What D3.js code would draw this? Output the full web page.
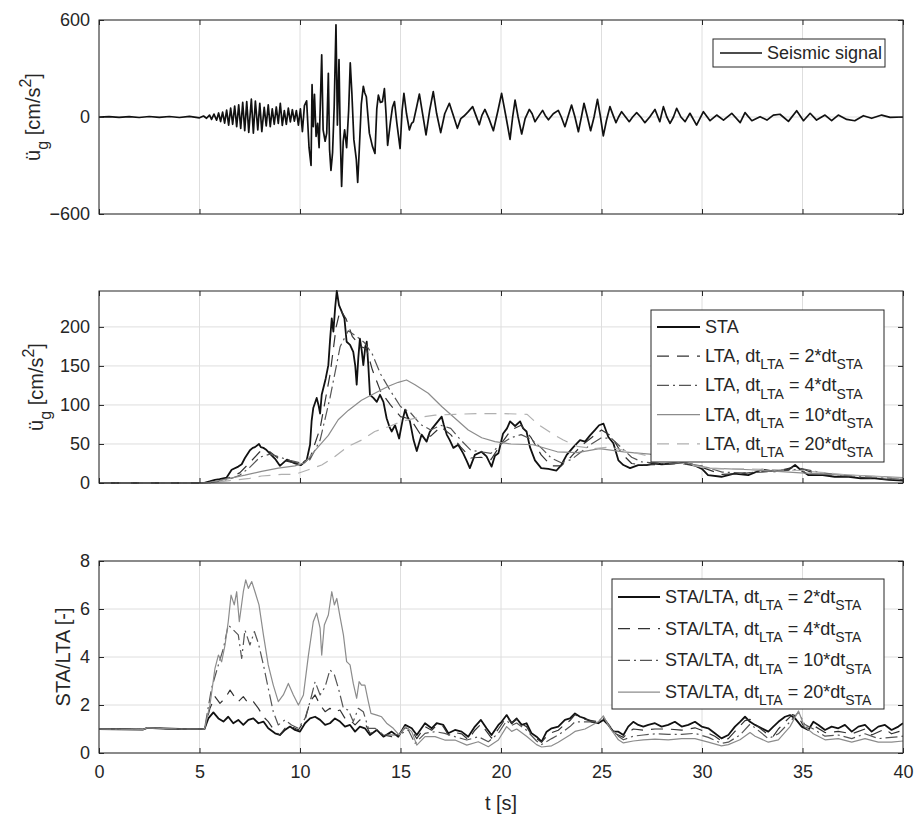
<!DOCTYPE html>
<html>
<head>
<meta charset="utf-8">
<script src="https://d3js.org/d3.v7.min.js"></script>
<style>
  body { margin:0; background:#fff; }
  svg { font-family: 'Liberation Sans', Arial, sans-serif; }
  text { fill:#262626; }
</style>
</head>
<body>
<svg id="chart" width="917" height="816"></svg>
<script>
// ---- data (t [s], value) ----
const tTicks = [0, 5, 10, 15, 20, 25, 30, 35, 40];
const accTicks = [-600, 0, 600];
const staTicks = [0, 50, 100, 150, 200];
const ratioTicks = [0, 2, 4, 6, 8];

const seismic = [[0,0],[0.5,2],[1,-2],[1.5,2],[2,-3],[2.5,3],[3,-2],[3.5,3],[4,-3],[4.5,4],[5,-5],[5.2,6],[5.35,-8],[5.5,12],[5.6,-15],[5.72,18],[5.85,-20],[5.95,25],[6.05,-28],[6.15,30],[6.25,-38],[6.35,42],[6.45,-50],[6.55,55],[6.65,-45],[6.75,68],[6.85,-60],[6.95,75],[7.05,-70],[7.15,90],[7.25,-85],[7.35,95],[7.45,-95],[7.58,110],[7.68,-100],[7.78,98],[7.9,-80],[8.0,85],[8.1,-90],[8.22,60],[8.32,-55],[8.42,75],[8.52,-60],[8.62,50],[8.72,-45],[8.82,62],[8.92,-40],[9.02,85],[9.12,-52],[9.22,40],[9.32,-45],[9.42,55],[9.52,-30],[9.62,45],[9.72,-25],[9.82,40],[9.92,-50],[10.02,50],[10.12,-90],[10.22,70],[10.33,100],[10.45,-190],[10.55,-300],[10.6,200],[10.66,-60],[10.72,140],[10.8,-120],[10.88,-40],[10.95,-190],[11.08,385],[11.15,-80],[11.25,-150],[11.33,-100],[11.41,270],[11.47,-200],[11.54,-330],[11.62,-220],[11.7,60],[11.79,570],[11.86,-50],[11.94,355],[12.0,-100],[12.07,-430],[12.15,-150],[12.22,-80],[12.32,-190],[12.42,40],[12.5,335],[12.58,150],[12.68,-140],[12.8,-260],[12.87,-405],[12.95,-200],[13.05,80],[13.15,190],[13.22,150],[13.3,125],[13.45,-100],[13.6,-180],[13.73,-225],[13.82,50],[13.9,135],[14.0,90],[14.1,95],[14.2,175],[14.28,20],[14.36,-175],[14.5,-30],[14.6,60],[14.7,95],[14.82,-40],[14.98,-195],[15.08,40],[15.17,146],[15.3,20],[15.44,-80],[15.55,-40],[15.64,-30],[15.8,60],[15.94,142],[16.1,20],[16.27,-111],[16.45,40],[16.63,157],[16.8,20],[17.0,-97],[17.2,20],[17.43,85],[17.6,20],[17.83,-70],[18.0,-10],[18.16,6],[18.35,30],[18.59,64],[18.75,10],[18.92,-48],[19.05,10],[19.2,47],[19.4,-10],[19.62,-85],[19.85,40],[20.03,146],[20.25,0],[20.45,-138],[20.58,0],[20.7,105],[20.85,0],[21.03,-105],[21.2,-10],[21.41,47],[21.55,20],[21.69,-29],[21.9,10],[22.07,41],[22.2,10],[22.36,-17],[22.6,20],[22.85,41],[23.0,0],[23.18,-60],[23.35,10],[23.51,74],[23.68,0],[23.85,-91],[24.0,0],[24.13,85],[24.3,0],[24.46,-85],[24.63,0],[24.8,109],[24.95,0],[25.09,-117],[25.25,-20],[25.42,64],[25.58,10],[25.72,-35],[25.85,0],[26.0,33],[26.2,0],[26.38,-29],[26.55,0],[26.75,27],[26.95,0],[27.16,-35],[27.4,0],[27.66,47],[27.9,-29],[28.08,64],[28.25,0],[28.41,-39],[28.58,0],[28.74,54],[28.95,0],[29.16,-29],[29.4,23],[29.73,-50],[30.07,33],[30.4,-23],[30.73,12],[31.07,-19],[31.48,23],[31.9,-35],[32.14,27],[32.48,-23],[32.89,2],[33.23,-19],[33.55,12],[33.88,17],[34.3,-27],[34.71,39],[35.05,-23],[35.38,23],[35.7,-19],[36.12,12],[36.45,-23],[36.78,12],[37.2,-15],[37.6,-23],[38.03,8],[38.44,-8],[38.94,12],[39.36,-2],[40,0]];

const sta = [[0,0],[5.2,0],[5.5,2],[5.77,4],[6.0,5],[6.35,7],[6.6,17],[6.93,21],[7.1,24],[7.26,32],[7.51,42],[7.65,45],[7.76,46],[7.96,50],[8.05,46],[8.18,45],[8.3,43],[8.42,40],[8.6,35],[8.76,31],[9.0,22],[9.22,27],[9.35,30],[9.5,28],[9.75,25],[10.05,23],[10.33,29],[10.5,49],[10.58,80],[10.66,96],[10.83,109],[10.92,100],[11.0,89],[11.08,113],[11.28,134],[11.41,151],[11.5,185],[11.58,211],[11.66,194],[11.75,225],[11.83,246],[11.94,228],[12.07,220],[12.21,211],[12.32,181],[12.49,177],[12.65,168],[12.75,150],[12.82,126],[12.9,160],[12.98,185],[13.07,170],[13.15,151],[13.25,175],[13.32,181],[13.4,150],[13.48,113],[13.65,109],[13.82,104],[13.98,113],[14.15,104],[14.31,83],[14.45,72],[14.56,66],[14.73,74],[14.93,57],[15.1,80],[15.23,94],[15.35,85],[15.47,79],[15.65,55],[15.81,41],[16.05,62],[16.3,53],[16.45,65],[16.58,70],[16.8,77],[17.05,85],[17.15,75],[17.3,62],[17.45,55],[17.63,45],[17.87,49],[18.12,38],[18.3,28],[18.45,19],[18.7,36],[19.03,40],[19.28,34],[19.53,21],[19.7,35],[19.87,38],[20.1,63],[20.3,70],[20.45,79],[20.7,73],[20.95,79],[21.1,70],[21.27,66],[21.44,46],[21.69,29],[22.0,19],[22.35,18],[22.76,16],[23.0,23],[23.27,36],[23.6,46],[23.93,55],[24.18,53],[24.43,61],[24.68,68],[24.88,74],[25.1,76],[25.34,59],[25.59,51],[25.84,29],[26.09,23],[26.42,19],[26.83,23],[27.25,23],[27.6,25],[28,24],[28.5,25],[29,26],[29.5,24],[30.0,18],[30.3,10],[30.97,8],[31.6,12],[32.3,10],[32.97,17],[33.6,15],[34.3,17],[34.63,23],[34.9,17],[35.3,10],[36.0,10],[36.6,8],[37.3,8],[37.9,6],[38.6,6],[39.3,4],[40,3]];

const lta2 = [[0,0],[5.3,0],[5.6,1],[6,3],[6.5,7],[7,13],[7.5,26],[8,40],[8.5,40],[9,30],[9.5,27],[10,25],[10.5,32],[11,70],[11.5,140],[11.8,200],[12.0,222],[12.3,210],[12.6,188],[13,175],[13.3,172],[13.6,145],[14,118],[14.5,100],[15,85],[15.5,82],[16,62],[16.5,60],[17,72],[17.5,62],[18,46],[18.5,32],[19,33],[19.5,30],[20,50],[20.5,68],[21,74],[21.5,58],[22,36],[22.5,22],[23,22],[23.5,34],[24,48],[24.5,58],[25,68],[25.5,60],[26,38],[26.5,25],[27,23],[28,24],[29,25],[30,20],[31,11],[32,12],[33,15],[34,17],[34.7,21],[35.3,15],[36,11],[37,9],[38,7],[39,5],[40,4]];

const lta4 = [[0,0],[5.3,0],[5.7,1],[6,2],[6.5,5],[7,10],[7.5,20],[8,33],[8.5,37],[9,33],[9.5,29],[10,26],[10.5,30],[11,55],[11.5,110],[12,175],[12.4,195],[12.8,188],[13.2,180],[13.6,165],[14,140],[14.5,118],[15,98],[15.5,90],[16,75],[16.5,68],[17,74],[17.5,70],[18,55],[18.5,42],[19,40],[19.5,38],[20,50],[20.5,58],[21,62],[21.5,56],[22,45],[22.5,32],[23,26],[23.5,30],[24,40],[24.5,50],[25,58],[25.5,57],[26,45],[26.5,33],[27,27],[28,25],[29,25],[30,22],[31,14],[32,13],[33,14],[34,16],[35,18],[36,13],[37,10],[38,8],[39,7],[40,5]];

const lta10 = [[0,0],[5.3,0],[6,3],[6.5,6],[7.26,10],[8.09,15],[8.92,19],[9.75,22],[10.25,26],[10.83,44],[11.41,61],[11.9,81],[12.4,93],[13.06,106],[13.72,115],[14.4,124],[14.89,129],[15.3,132],[15.72,126],[16.38,115],[17.05,98],[17.71,83],[18.37,68],[19.04,58],[19.7,53],[20.5,50],[21.6,49],[22.8,40],[23.8,39],[24.9,44],[26.1,40],[27.4,37],[28.5,30],[29.5,24],[30.4,19],[32.4,17],[34.9,13],[37.4,10],[40,7]];

const lta20 = [[0,0],[5.5,0],[6.5,3],[7.5,6],[8.09,9],[9.09,11],[9.75,11],[10.42,17],[11.08,23],[11.74,34],[12.4,47],[13.06,55],[13.72,66],[14.4,72],[15.06,79],[15.89,84],[16.72,87],[17.71,88],[18.87,89],[20,89],[21.3,88],[21.8,76],[22.5,64],[23.1,55],[23.8,47],[24.6,44],[25.4,46],[26.1,42],[27.1,36],[28.5,28],[30.4,18],[32.4,18],[34.9,16],[37.4,10],[40,6]];

const ratio2 = [[0,1],[2.2,0.98],[2.4,1.05],[3.2,1.02],[4,1.0],[5.25,1.0],[5.44,1.44],[5.69,1.69],[5.94,1.44],[6.19,1.31],[6.43,1.51],[6.68,1.24],[6.93,1.38],[7.18,1.17],[7.43,1.38],[7.68,1.44],[7.93,1.24],[8.18,1.31],[8.42,1.03],[8.76,0.82],[9.0,0.75],[9.25,0.96],[9.5,1.1],[9.75,0.96],[10.0,0.89],[10.25,1.24],[10.5,1.44],[10.75,1.51],[11.0,1.38],[11.25,1.17],[11.49,1.24],[11.74,1.44],[11.99,1.31],[12.24,1.1],[12.49,1.17],[12.74,0.89],[12.98,1.1],[13.23,1.03],[13.48,0.75],[13.82,0.96],[14.15,0.68],[14.56,0.89],[14.89,0.68],[15.23,1.17],[15.56,1.03],[15.81,0.75],[16.22,1.24],[16.55,1.03],[16.8,1.24],[17.13,1.17],[17.38,0.82],[17.71,0.96],[18.04,0.89],[18.37,0.68],[18.7,1.1],[19.0,1.38],[19.28,1.03],[19.53,0.75],[19.87,1.17],[20.03,1.3],[20.28,1.58],[20.53,1.24],[20.78,1.44],[21.03,1.17],[21.27,1.24],[21.52,0.82],[21.77,0.68],[22.02,0.47],[22.27,0.89],[22.52,1.03],[22.85,1.1],[23.18,1.38],[23.43,1.44],[23.68,1.65],[23.93,1.51],[24.18,1.44],[24.51,1.3],[24.84,1.24],[25.09,1.38],[25.34,1.17],[25.59,0.89],[25.84,0.89],[26.09,0.75],[26.33,1.1],[26.58,1.3],[26.83,1.17],[27.08,1.1],[27.33,1.17],[27.66,1.24],[27.99,1.1],[28.32,1.17],[28.65,1.3],[28.99,1.1],[29.32,1.17],[29.65,1.3],[29.98,1.1],[30.31,1.03],[30.64,0.82],[30.97,0.61],[31.31,0.75],[31.64,1.1],[31.89,1.3],[32.14,1.51],[32.39,1.3],[32.64,1.17],[32.97,1.03],[33.3,0.89],[33.55,1.1],[33.8,1.3],[34.13,1.51],[34.38,1.58],[34.63,1.44],[34.96,1.1],[35.29,0.96],[35.54,1.3],[35.79,1.17],[36.12,0.96],[36.45,1.1],[36.78,1.03],[37.11,1.17],[37.45,0.89],[37.78,1.1],[38.11,1.17],[38.44,0.89],[38.77,1.1],[39.1,1.17],[39.43,0.96],[39.77,1.1],[40,1.24]];

const ratio4 = [[0,1],[2.2,0.98],[2.4,1.05],[3.2,1.02],[4,1.0],[5.25,1.0],[5.52,1.86],[5.77,2.35],[6.02,2.07],[6.27,2.28],[6.52,2.62],[6.68,2.42],[6.93,2.14],[7.18,2.35],[7.43,2.07],[7.68,2.14],[7.93,1.86],[8.18,1.51],[8.42,1.31],[8.76,0.89],[9.0,0.75],[9.25,1.03],[9.58,1.1],[9.92,0.96],[10.25,1.38],[10.5,2.14],[10.75,2.42],[11.0,2.0],[11.25,1.72],[11.49,1.86],[11.74,1.72],[11.99,1.79],[12.24,1.44],[12.49,1.38],[12.74,1.17],[12.98,1.38],[13.23,1.24],[13.48,0.82],[13.82,0.89],[14.15,0.75],[14.56,0.68],[14.89,0.75],[15.23,1.05],[15.56,0.95],[15.81,0.6],[16.22,1.1],[16.55,0.95],[16.8,1.15],[17.13,1.1],[17.38,0.75],[17.71,0.85],[18.04,0.8],[18.37,0.55],[18.7,0.95],[19.0,1.2],[19.28,0.9],[19.53,0.62],[19.87,1.0],[20.28,1.5],[20.53,1.25],[20.78,1.4],[21.03,1.2],[21.27,1.1],[21.52,0.75],[21.77,0.6],[22.02,0.45],[22.27,0.7],[22.52,0.85],[22.85,0.95],[23.18,1.2],[23.43,1.35],[23.68,1.6],[23.93,1.5],[24.18,1.4],[24.51,1.35],[24.84,1.3],[25.09,1.45],[25.34,1.2],[25.59,0.85],[25.84,0.75],[26.09,0.65],[26.33,0.85],[26.58,1.0],[27.08,0.95],[27.66,1.0],[28.32,1.0],[28.99,0.95],[29.65,1.05],[29.98,0.95],[30.64,0.7],[30.97,0.5],[31.31,0.6],[31.64,0.9],[32.14,1.35],[32.39,1.4],[32.64,1.2],[33.3,0.75],[33.55,0.7],[33.8,1.0],[34.13,1.3],[34.5,1.6],[34.8,1.5],[35.1,1.05],[35.54,1.15],[36.12,0.85],[36.78,0.9],[37.45,0.8],[38.11,1.0],[38.44,0.75],[39.1,1.0],[39.43,0.8],[40,0.95]];

const ratio10 = [[0,1],[2.2,0.98],[2.4,1.05],[3.2,1.02],[4,1.0],[5.25,1.0],[5.6,2.7],[5.94,3.67],[6.19,4.36],[6.43,5.33],[6.68,5.13],[6.93,4.92],[7.1,3.94],[7.26,5.13],[7.51,4.5],[7.73,5.06],[7.93,4.57],[8.18,3.67],[8.42,2.7],[8.67,1.72],[8.92,1.17],[9.25,1.38],[9.58,1.17],[9.92,1.03],[10.25,1.44],[10.5,2.14],[10.75,2.97],[11.0,2.42],[11.25,2.76],[11.49,3.47],[11.71,3.26],[11.91,2.7],[12.16,1.86],[12.4,1.79],[12.65,1.31],[12.9,1.86],[13.15,1.72],[13.4,1.03],[13.73,1.03],[14.06,0.82],[14.4,0.75],[14.73,0.75],[15.06,0.82],[15.39,0.96],[15.72,0.4],[16.22,0.82],[16.72,0.89],[17.2,0.82],[17.71,0.68],[18.3,0.54],[18.87,0.68],[19.37,0.47],[19.87,0.82],[20.28,1.35],[20.53,1.15],[20.78,1.25],[21.27,0.95],[21.77,0.5],[22.02,0.35],[22.52,0.6],[22.85,0.75],[23.43,1.1],[23.68,1.3],[24.18,1.3],[24.84,1.3],[25.09,1.5],[25.34,1.2],[25.84,0.7],[26.09,0.55],[26.58,0.7],[27.08,0.75],[27.66,0.8],[28.32,0.78],[28.99,0.78],[29.65,0.82],[30.31,0.65],[30.97,0.4],[31.31,0.45],[31.89,0.75],[32.39,1.2],[32.64,1.05],[33.3,0.6],[33.8,0.8],[34.38,1.3],[34.8,1.7],[35.1,1.2],[35.54,1.0],[36.12,0.7],[36.78,0.75],[37.45,0.6],[38.11,0.8],[38.77,0.6],[39.43,0.65],[40,0.7]];

const ratio20 = [[0,1],[2.2,0.98],[2.4,1.05],[3.2,1.02],[4,1.0],[5.25,1.0],[5.52,2.0],[5.77,3.53],[5.94,4.08],[6.1,3.8],[6.27,4.5],[6.43,5.47],[6.57,6.58],[6.73,6.17],[6.85,6.72],[6.98,5.47],[7.18,6.72],[7.3,7.21],[7.43,6.86],[7.6,7.14],[7.76,6.72],[7.96,6.17],[8.18,4.92],[8.42,3.67],[8.67,2.83],[8.92,2.14],[9.17,2.42],[9.42,2.9],[9.67,2.42],[9.92,2.0],[10.17,2.42],[10.42,4.08],[10.66,5.47],[10.83,5.83],[11.0,5.2],[11.08,4.08],[11.21,5.33],[11.41,5.75],[11.58,6.72],[11.71,6.17],[11.83,6.44],[11.99,5.68],[12.16,4.92],[12.32,3.81],[12.49,3.67],[12.65,2.9],[12.82,2.28],[12.94,2.97],[13.06,2.83],[13.23,2.83],[13.4,2.14],[13.53,1.65],[13.82,1.58],[14.06,1.51],[14.31,1.24],[14.64,1.03],[14.93,0.75],[15.23,1.1],[15.56,0.89],[15.81,0.33],[16.22,0.68],[16.72,0.68],[17.2,0.54],[17.71,0.54],[18.3,0.33],[18.87,0.47],[19.37,0.26],[19.87,0.54],[20.28,1.1],[20.53,0.9],[20.78,1.0],[21.27,0.7],[21.77,0.35],[22.02,0.25],[22.52,0.3],[22.85,0.45],[23.43,0.75],[23.68,0.9],[24.18,1.0],[24.84,1.3],[25.09,1.55],[25.34,1.15],[25.84,0.55],[26.09,0.42],[26.58,0.5],[27.08,0.55],[27.66,0.58],[28.32,0.55],[28.99,0.6],[29.65,0.6],[30.31,0.45],[30.97,0.3],[31.31,0.35],[31.89,0.55],[32.39,0.85],[32.64,0.7],[33.3,0.45],[33.8,0.55],[34.38,1.1],[34.8,1.75],[35.1,1.1],[35.54,0.8],[36.12,0.55],[36.78,0.6],[37.45,0.45],[38.11,0.6],[38.77,0.45],[39.43,0.45],[40,0.5]];

// ---- layout ----
const svg = d3.select("#chart");
const left = 99, right = 903;
const x = d3.scaleLinear().domain([0, 40]).range([left, right]);
const axisColor = "#262626";
const tickFont = 18;
const legendFont = 18;

// line styles (matlab-like)
const styles = {
  black:  {stroke:"#111", width:1.8, dash:null},
  dashed: {stroke:"#333", width:1.2, dash:"12,8"},
  dashdot:{stroke:"#555", width:1.2, dash:"12,4,2,4"},
  gray:   {stroke:"#8c8c8c", width:1.2, dash:null},
  light:  {stroke:"#b0b0b0", width:1.2, dash:"12,8"}
};

let clipId = 0;
function panel(top, bottom, yDomain, yTicks, showXLabels) {
  const y = d3.scaleLinear().domain(yDomain).range([bottom, top]);
  const g = svg.append("g");

  // grid
  g.append("g").selectAll("line").data(tTicks).join("line")
    .attr("x1", d => x(d)).attr("x2", d => x(d))
    .attr("y1", top).attr("y2", bottom)
    .attr("stroke", "#dedede").attr("stroke-width", 1);
  g.append("g").selectAll("line").data(yTicks).join("line")
    .attr("x1", left).attr("x2", right)
    .attr("y1", d => y(d)).attr("y2", d => y(d))
    .attr("stroke", "#dedede").attr("stroke-width", 1);

  const id = "clip" + (clipId++);
  svg.append("clipPath").attr("id", id).append("rect")
    .attr("x", left).attr("y", top - 1).attr("width", right - left).attr("height", bottom - top + 2);
  const plot = g.append("g").attr("clip-path", `url(#${id})`);

  // axes with inward ticks on all four sides
  const axB = d3.axisBottom(x).tickValues(tTicks).tickSize(-5).tickPadding(12)
    .tickFormat(showXLabels ? d3.format("d") : "");
  const axT = d3.axisTop(x).tickValues(tTicks).tickSize(-5).tickFormat("");
  const axL = d3.axisLeft(y).tickValues(yTicks).tickSize(-5).tickPadding(9).tickFormat(d3.format("d"));
  const axR = d3.axisRight(y).tickValues(yTicks).tickSize(-5).tickFormat("");

  [[axB, `translate(0,${bottom})`], [axT, `translate(0,${top})`],
   [axL, `translate(${left},0)`], [axR, `translate(${right},0)`]].forEach(([ax, tr]) => {
    const a = g.append("g").attr("transform", tr).call(ax);
    a.select(".domain").remove();
    a.selectAll("line").attr("stroke", axisColor);
    a.selectAll("text").attr("fill", axisColor).style("font-size", tickFont + "px")
      .style("font-family", "'Liberation Sans', Arial, sans-serif");
  });

  return {y, g, plot, top, bottom};
}

function drawLine(p, data, st) {
  const line = d3.line().x(d => x(d[0])).y(d => p.y(d[1]));
  p.plot.append("path").datum(data)
    .attr("d", line)
    .attr("fill", "none")
    .attr("stroke", st.stroke)
    .attr("stroke-width", st.width)
    .attr("stroke-linejoin", "round")
    .attr("stroke-dasharray", st.dash);
}

function box(p) {
  p.g.append("rect")
    .attr("x", left).attr("y", p.top)
    .attr("width", right - left).attr("height", p.bottom - p.top)
    .attr("fill", "none").attr("stroke", axisColor).attr("stroke-width", 1);
}

// rich text: parts are strings or {sub:..} / {sup:..}
function richText(sel, parts, size) {
  const subSize = Math.round(size * 0.78);
  let shift = 0;
  parts.forEach(p => {
    const ts = sel.append("tspan");
    let want = 0, txt = p, fs = size;
    if (typeof p === "object") {
      txt = p.sub || p.sup;
      want = p.sub ? size * 0.4 : -size * 0.45;
      fs = subSize;
    }
    ts.attr("dy", want - shift).style("font-size", fs + "px").text(txt);
    shift = want;
  });
}

function legend(p, x0, y0, x1, y1, rows, rowStart, pitch, sampleX0, sampleX1, textX) {
  const lg = p.g.append("g");
  lg.append("rect").attr("x", x0).attr("y", y0).attr("width", x1 - x0).attr("height", y1 - y0)
    .attr("fill", "#fff").attr("stroke", axisColor).attr("stroke-width", 1);
  rows.forEach((r, i) => {
    const cy = y0 + rowStart + i * pitch;
    lg.append("line").attr("x1", sampleX0).attr("x2", sampleX1).attr("y1", cy).attr("y2", cy)
      .attr("stroke", r.style.stroke).attr("stroke-width", r.style.width)
      .attr("stroke-dasharray", r.style.dash);
    const t = lg.append("text").attr("x", textX).attr("y", cy + 6).style("font-size", legendFont + "px");
    richText(t, r.label, legendFont);
  });
}

function yLabel(cx, cy, parts) {
  const t = svg.append("text")
    .attr("transform", `translate(${cx},${cy}) rotate(-90)`)
    .attr("text-anchor", "middle").style("font-size", "20px");
  richText(t, parts, 20);
}

// ---- panel 1: seismic signal ----
const p1 = panel(20, 214, [-600, 600], accTicks, false);
drawLine(p1, seismic, {stroke:"#111", width:1.7, dash:null});
box(p1);
legend(p1, 713, 39, 885, 67, [{style:{stroke:"#111", width:1.4}, label:["Seismic signal"]}],
  14, 0, 720, 762, 767);
yLabel(40, 117, ["ü", {sub:"g"}, " [cm/s", {sup:"2"}, "]"]);

// ---- panel 2: STA and LTA ----
const p2 = panel(291, 483, [0, 246], staTicks, false);
const staSeries = [
  {data: sta,   style: styles.black,   label: ["STA"]},
  {data: lta2,  style: styles.dashed,  label: ["LTA, dt", {sub:"LTA"}, " = 2*dt", {sub:"STA"}]},
  {data: lta4,  style: styles.dashdot, label: ["LTA, dt", {sub:"LTA"}, " = 4*dt", {sub:"STA"}]},
  {data: lta10, style: styles.gray,    label: ["LTA, dt", {sub:"LTA"}, " = 10*dt", {sub:"STA"}]},
  {data: lta20, style: styles.light,   label: ["LTA, dt", {sub:"LTA"}, " = 20*dt", {sub:"STA"}]}
];
staSeries.forEach(s => drawLine(p2, s.data, s.style));
box(p2);
legend(p2, 651, 310, 884, 462, staSeries, 17, 29.2, 657, 700, 705);
yLabel(43, 387, ["ü", {sub:"g"}, " [cm/s", {sup:"2"}, "]"]);

// ---- panel 3: STA/LTA ratio ----
const p3 = panel(561, 753, [0, 8], ratioTicks, true);
const ratioSeries = [
  {data: ratio2,  style: styles.black,   label: ["STA/LTA, dt", {sub:"LTA"}, " = 2*dt", {sub:"STA"}]},
  {data: ratio4,  style: styles.dashed,  label: ["STA/LTA, dt", {sub:"LTA"}, " = 4*dt", {sub:"STA"}]},
  {data: ratio10, style: styles.dashdot, label: ["STA/LTA, dt", {sub:"LTA"}, " = 10*dt", {sub:"STA"}]},
  {data: ratio20, style: styles.gray,    label: ["STA/LTA, dt", {sub:"LTA"}, " = 20*dt", {sub:"STA"}]}
];
ratioSeries.forEach(s => drawLine(p3, s.data, s.style));
box(p3);
legend(p3, 612, 579, 884, 709, ratioSeries, 18, 31.7, 618, 660, 665);
yLabel(70, 657, ["STA/LTA [-]"]);

// x label
svg.append("text").attr("x", (left + right) / 2).attr("y", 810)
  .attr("text-anchor", "middle").style("font-size", "20px").text("t [s]");
</script>
</body>
</html>
